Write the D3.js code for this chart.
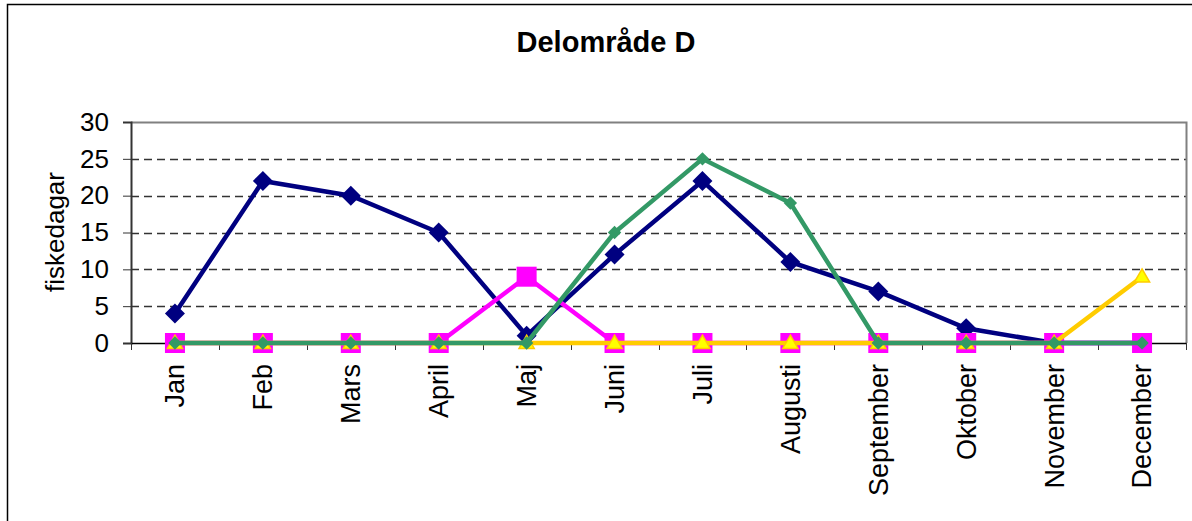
<!DOCTYPE html>
<html>
<head>
<meta charset="utf-8">
<script src="https://d3js.org/d3.v7.min.js"></script>
<style>
    body { margin: 0; background: #fff; }
    text { font-family: Arial, "Liberation Sans", sans-serif; }
</style>
</head>
<body>
<script>
// months on the x axis
var months = ["Jan", "Feb", "Mars", "April", "Maj", "Juni", "Juli", "Augusti",
    "September", "Oktober", "November", "December"];

// fishing days per month, one list per series
var navyValues = [4, 22, 20, 15, 1, 12, 22, 11, 7, 2, 0, 0];
var pinkValues = [0, 0, 0, 0, 9, 0, 0, 0, 0, 0, 0, 0];
var yellowValues = [0, 0, 0, 0, 0, 0, 0, 0, 0, 0, 0, 9];
var greenValues = [0, 0, 0, 0, 0, 15, 25, 19, 0, 0, 0, 0];

var yTicks = [0, 5, 10, 15, 20, 25, 30];

var svg = d3.select("body")
    .append("svg")
    .attr("width", 1192)
    .attr("height", 521);

// outer chart border
svg.append("rect")
    .attr("x", 7.5)
    .attr("y", 4.5)
    .attr("width", 1200)
    .attr("height", 540)
    .attr("fill", "none")
    .attr("stroke", "#000")
    .attr("stroke-width", 1.5);

var margin = {top: 122, left: 131},
    width = 1186 - margin.left,
    height = 343 - margin.top;

var g = svg.append("g")
    .attr("transform", "translate(" + margin.left + "," + margin.top + ")");

var x = d3.scaleBand()
    .domain(months)
    .range([0, width]);

var y = d3.scaleLinear()
    .domain([0, 30])
    .range([height, 0]);

// dashed gridlines
g.selectAll(".grid")
    .data(yTicks.filter(function(d) { return d > 0 && d < 30; }))
    .enter().append("line")
    .attr("x1", 0)
    .attr("x2", width)
    .attr("y1", function(d) { return Math.round(y(d)) + 0.5; })
    .attr("y2", function(d) { return Math.round(y(d)) + 0.5; })
    .attr("stroke", "#333")
    .attr("stroke-width", 1.3)
    .attr("stroke-dasharray", "8,5");

// top and right plot frame
g.append("path")
    .attr("d", "M0," + (Math.round(y(30)) + 0.5) + "H" + (width + 0.5) + "V" + height)
    .attr("fill", "none")
    .attr("stroke", "#808080")
    .attr("stroke-width", 2);

// y axis
var yAxis = g.append("g")
    .attr("class", "y axis")
    .call(d3.axisLeft(y).tickValues(yTicks).tickSize(8).tickPadding(14));
yAxis.select(".domain").attr("stroke", "#333").attr("stroke-width", 2);
yAxis.selectAll("line").attr("stroke", "#333");
yAxis.selectAll("text").style("font-size", "26px").attr("fill", "#000");

// x axis with ticks between the months
var xAxis = g.append("g")
    .attr("class", "x axis")
    .attr("transform", "translate(0," + height + ")")
    .call(d3.axisBottom(x).tickSize(0).tickSizeOuter(0));
xAxis.select(".domain").attr("stroke", "#000").attr("stroke-width", 1.5);
xAxis.selectAll("text")
    .style("font-size", "27px")
    .attr("fill", "#000")
    .attr("text-anchor", "end")
    .attr("transform", "rotate(-90)")
    .attr("x", -21)
    .attr("y", 0)
    .attr("dy", "0.35em");

g.selectAll(".xtick")
    .data(d3.range(months.length + 1))
    .enter().append("line")
    .attr("x1", function(i) { return Math.round(i * x.step()) + 0.5; })
    .attr("x2", function(i) { return Math.round(i * x.step()) + 0.5; })
    .attr("y1", height)
    .attr("y2", height + 7)
    .attr("stroke", "#333");

// title and axis label
svg.append("text")
    .attr("x", 606)
    .attr("y", 52)
    .attr("text-anchor", "middle")
    .style("font-size", "29px")
    .style("font-weight", "bold")
    .text("Delområde D");

svg.append("text")
    .attr("transform", "translate(64,232) rotate(-90)")
    .attr("text-anchor", "middle")
    .style("font-size", "26px")
    .text("fiskedagar");

var line = d3.line()
    .x(function(d, i) { return x(months[i]) + x.bandwidth() / 2; })
    .y(function(d) { return y(d); });

function cx(i) { return x(months[i]) + x.bandwidth() / 2; }

// navy series with diamonds
g.append("path")
    .datum(navyValues)
    .attr("d", line)
    .attr("fill", "none")
    .attr("stroke", "#000080")
    .attr("stroke-width", 4.5);
g.selectAll(".navy")
    .data(navyValues)
    .enter().append("path")
    .attr("d", d3.symbol(d3.symbolSquare, 200))
    .attr("transform", function(d, i) { return "translate(" + cx(i) + "," + y(d) + ") rotate(45)"; })
    .attr("fill", "#000080");

// magenta series with squares
g.append("path")
    .datum(pinkValues)
    .attr("d", line)
    .attr("fill", "none")
    .attr("stroke", "#FF00FF")
    .attr("stroke-width", 4.5);
g.selectAll(".pink")
    .data(pinkValues)
    .enter().append("rect")
    .attr("x", function(d, i) { return cx(i) - 10; })
    .attr("y", function(d) { return y(d) - 10; })
    .attr("width", 20)
    .attr("height", 20)
    .attr("fill", "#FF00FF");

// yellow series with triangles
g.append("path")
    .datum(yellowValues)
    .attr("d", line)
    .attr("fill", "none")
    .attr("stroke", "#FFCC00")
    .attr("stroke-width", 4.5);
g.selectAll(".yellow")
    .data(yellowValues)
    .enter().append("path")
    .attr("d", d3.symbol(d3.symbolTriangle, 100))
    .attr("transform", function(d, i) { return "translate(" + cx(i) + "," + (y(d) + 1) + ")"; })
    .attr("fill", "#FFFF00")
    .attr("stroke", "#FFCC00")
    .attr("stroke-width", 1.5);

// green series with small diamonds
g.append("path")
    .datum(greenValues)
    .attr("d", line)
    .attr("fill", "none")
    .attr("stroke", "#339966")
    .attr("stroke-width", 4.5);
g.selectAll(".green")
    .data(greenValues)
    .enter().append("path")
    .attr("d", d3.symbol(d3.symbolSquare, 90))
    .attr("transform", function(d, i) { return "translate(" + cx(i) + "," + y(d) + ") rotate(45)"; })
    .attr("fill", "#339966");
</script>
</body>
</html>
